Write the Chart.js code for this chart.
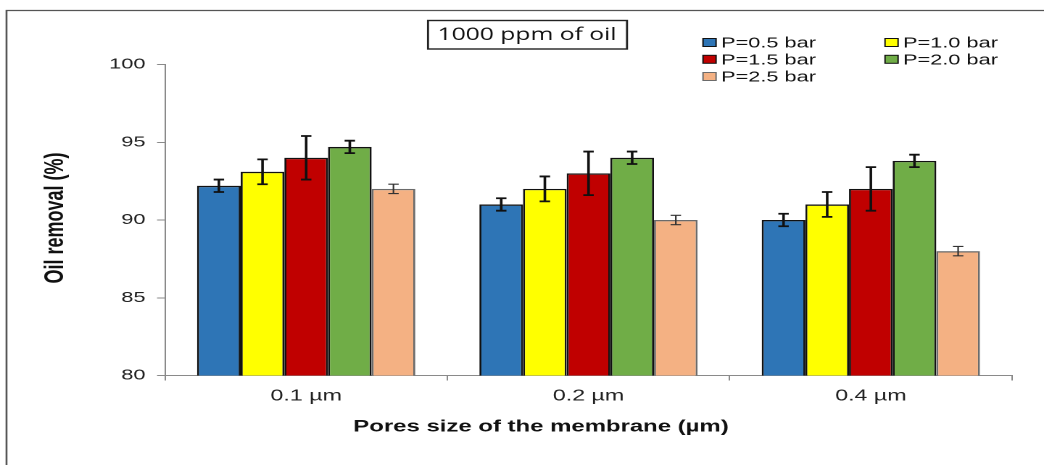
<!DOCTYPE html>
<html>
<head>
<meta charset="utf-8">
<script src="https://cdn.jsdelivr.net/npm/chart.js@4/dist/chart.umd.min.js"></script>
<style>
  html, body { margin: 0; padding: 0; background: #fff; overflow: hidden; }
  /* o grafico original esta esticado na horizontal, entao desenho estreito e estico */
  #chartContainer { position: absolute; left: 0; top: 0; width: 720px; height: 465px; transform: scaleX(1.45); transform-origin: 0 0; }
</style>
</head>
<body>
<div id="chartContainer"><canvas id="chart"></canvas></div>
<script>
const categorias = ['0.1 µm', '0.2 µm', '0.4 µm'];
const series = ['P=0.5 bar', 'P=1.0 bar', 'P=1.5 bar', 'P=2.0 bar', 'P=2.5 bar'];
const p05 = [92.2, 91.0, 90.0];
const p10 = [93.1, 92.0, 91.0];
const p15 = [94.0, 93.0, 92.0];
const p20 = [94.7, 94.0, 93.8];
const p25 = [92.0, 90.0, 88.0];
const erro05 = [0.4, 0.4, 0.4];
const erro10 = [0.8, 0.8, 0.8];
const erro15 = [1.4, 1.4, 1.4];
const erro20 = [0.4, 0.4, 0.4];
const erro25 = [0.3, 0.3, 0.3];
const yTicks = [80, 85, 90, 95, 100];

const valores = [p05, p10, p15, p20, p25];
const erros = [erro05, erro10, erro15, erro20, erro25];
const cores = ['#2E75B6', '#FFFF00', '#C00000', '#70AD47', '#F4B183'];
const bordas = ['#111', '#111', '#111', '#111', '#6b6b6b'];

const S = 1.45; // fator de esticamento horizontal
const px = x => x / S;

// moldura, caixa do titulo, legenda e titulos dos eixos
const extras = {
  id: 'extras',
  beforeDraw(chart) {
    const ctx = chart.ctx;
    ctx.save();
    ctx.fillStyle = '#fff';
    ctx.fillRect(0, 0, chart.width, chart.height);
    ctx.strokeStyle = '#555';
    ctx.lineWidth = 1.3;
    ctx.beginPath();
    ctx.moveTo(px(6.5), chart.height);
    ctx.lineTo(px(6.5), 10.5);
    ctx.lineTo(chart.width, 10.5);
    ctx.stroke();
    ctx.restore();
  },
  afterDraw(chart) {
    const ctx = chart.ctx;
    ctx.save();
    // caixa do titulo
    ctx.strokeStyle = '#222';
    ctx.lineWidth = 1.4;
    ctx.strokeRect(px(428), 20.5, px(627) - px(428), 28.5);
    ctx.fillStyle = '#111';
    ctx.font = '17px "Open Sans"';
    ctx.textAlign = 'center';
    ctx.textBaseline = 'middle';
    ctx.fillText('1000 ppm of oil', px(527), 35);

    // legenda em duas colunas
    const colX = [px(703), px(885)];
    const rowY = [42.5, 59.3, 76.5];
    ctx.font = '15px "Liberation Sans", Arial';
    ctx.textAlign = 'left';
    chart.data.datasets.forEach((ds, i) => {
      const x = colX[i % 2];
      const y = rowY[Math.floor(i / 2)];
      ctx.fillStyle = ds.backgroundColor;
      ctx.fillRect(x, y - 4, 9, 8);
      ctx.strokeStyle = ds.borderColor;
      ctx.lineWidth = 1;
      ctx.strokeRect(x, y - 4, 9, 8);
      ctx.fillStyle = '#111';
      ctx.fillText(ds.label, x + px(18), y + 1);
    });

    // titulo do eixo y
    ctx.save();
    ctx.translate(px(56), 218);
    ctx.rotate(-Math.PI / 2);
    ctx.font = 'bold 18px "Liberation Sans", Arial';
    ctx.textAlign = 'center';
    ctx.fillStyle = '#111';
    ctx.fillText('Oil removal (%)', 0, 0);
    ctx.restore();

    // titulo do eixo x
    ctx.font = 'bold 16.5px "Liberation Sans", Arial';
    ctx.textAlign = 'center';
    ctx.fillStyle = '#111';
    ctx.fillText('Pores size of the membrane (µm)', px(541), 427);
    ctx.restore();
  }
};

// barras de erro
const barrasErro = {
  id: 'barrasErro',
  afterDatasetsDraw(chart) {
    const ctx = chart.ctx;
    const yScale = chart.scales.y;
    ctx.save();
    chart.data.datasets.forEach((ds, i) => {
      const meta = chart.getDatasetMeta(i);
      meta.data.forEach((bar, j) => {
        const v = ds.data[j];
        const e = erros[i][j];
        const yTop = yScale.getPixelForValue(v + e);
        const yBot = yScale.getPixelForValue(v - e);
        const leve = i === 4;
        ctx.strokeStyle = leve ? '#333' : '#111';
        ctx.lineWidth = leve ? 1.1 : 1.8;
        const half = 3.6;
        ctx.beginPath();
        ctx.moveTo(bar.x, yTop);
        ctx.lineTo(bar.x, yBot);
        ctx.moveTo(bar.x - half, yTop);
        ctx.lineTo(bar.x + half, yTop);
        ctx.moveTo(bar.x - half, yBot);
        ctx.lineTo(bar.x + half, yBot);
        ctx.stroke();
      });
    });
    ctx.restore();
  }
};

const ctx = document.getElementById('chart').getContext('2d');
new Chart(ctx, {
  type: 'bar',
  data: {
    labels: categorias,
    datasets: series.map((nome, i) => ({
      label: nome,
      data: valores[i],
      backgroundColor: cores[i],
      borderColor: bordas[i],
      borderWidth: 1.4,
      borderSkipped: false,
      categoryPercentage: 0.773,
      barPercentage: 1.0
    }))
  },
  options: {
    responsive: true,
    maintainAspectRatio: false,
    animation: false,
    devicePixelRatio: 2,
    layout: { padding: { top: 64.5, left: 0, right: 720 - px(1012), bottom: 0 } },
    plugins: {
      legend: { display: false },
      tooltip: { enabled: false }
    },
    scales: {
      x: {
        grid: { offset: true, drawOnChartArea: false, color: '#8a8a8a', tickLength: 5 },
        border: { color: '#8a8a8a', width: 1 },
        ticks: { color: '#222', font: { family: '"Liberation Sans", Arial', size: 16 }, padding: 6 },
        afterFit(scale) { scale.height = 465 - 375.5; }
      },
      y: {
        min: 80,
        max: 100,
        afterBuildTicks(scale) { scale.ticks = yTicks.map(v => ({ value: v })); },
        grid: { drawOnChartArea: false, color: '#8a8a8a', tickLength: 5.5 },
        border: { color: '#8a8a8a', width: 1 },
        ticks: { color: '#222', font: { family: '"Liberation Sans", Arial', size: 15 }, padding: 8 },
        afterFit(scale) { scale.width = px(165); }
      }
    }
  },
  plugins: [extras, barrasErro]
});
</script>
</body>
</html>
